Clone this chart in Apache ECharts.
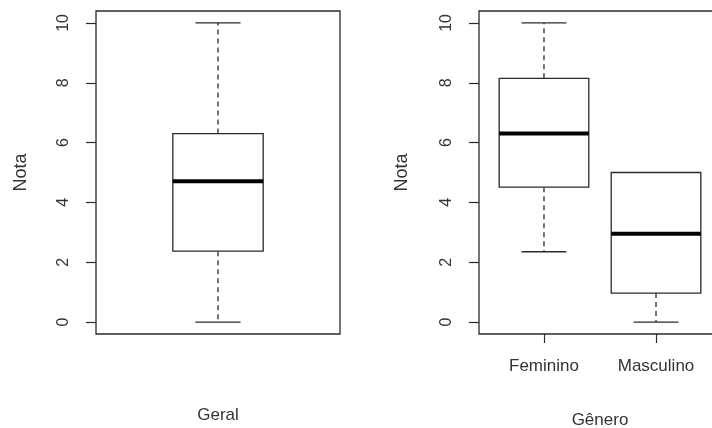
<!DOCTYPE html>
<html>
<head>
<meta charset="utf-8">
<script src="https://cdn.jsdelivr.net/npm/echarts@6/dist/echarts.min.js"></script>
<style>
html,body{margin:0;padding:0;background:#fff;}
#chart{width:712px;height:428px;}
</style>
</head>
<body>
<div id="chart"></div>
<script>
// ---- data ----
const yTicks = [0, 2, 4, 6, 8, 10];
// [min, Q1, median, Q3, max]
const geralStats = [0, 2.37, 4.71, 6.30, 10];
const generoCats = ['Feminino', 'Masculino'];
const femininoStats = [2.35, 4.51, 6.30, 8.15, 10];
const masculinoStats = [0, 0.97, 2.95, 5.0, 5.0];

const ink = '#2a2a2a';
const txt = '#333';
const font = 'Liberation Sans, Arial, sans-serif';

function makeRender(halfW) {
  return function (params, api) {
    const x = api.value(0);
    const lo = api.value(1), q1 = api.value(2), med = api.value(3), q3 = api.value(4), hi = api.value(5);
    const tl = api.coord([x - halfW, q3]);
    const br = api.coord([x + halfW, q1]);
    const ml = api.coord([x - halfW, med]);
    const mr = api.coord([x + halfW, med]);
    const c = api.coord([x, 0])[0];
    const capL = api.coord([x - halfW / 2, 0])[0];
    const capR = api.coord([x + halfW / 2, 0])[0];
    const yLo = api.coord([x, lo])[1], yHi = api.coord([x, hi])[1];
    const children = [];
    const solid = {stroke: ink, lineWidth: 1.3, fill: null};
    const dashed = {stroke: ink, lineWidth: 1.3, lineDash: [5, 4]};
    if (hi > q3) {
      children.push({type: 'line', shape: {x1: c, y1: tl[1], x2: c, y2: yHi}, style: dashed});
      children.push({type: 'line', shape: {x1: capL, y1: yHi, x2: capR, y2: yHi}, style: solid});
    }
    if (lo < q1) {
      children.push({type: 'line', shape: {x1: c, y1: br[1], x2: c, y2: yLo}, style: dashed});
      children.push({type: 'line', shape: {x1: capL, y1: yLo, x2: capR, y2: yLo}, style: solid});
    }
    children.push({type: 'rect', shape: {x: tl[0], y: tl[1], width: br[0] - tl[0], height: br[1] - tl[1]},
      style: {stroke: ink, lineWidth: 1.3, fill: '#fff'}});
    children.push({type: 'line', shape: {x1: ml[0], y1: ml[1], x2: mr[0], y2: mr[1]},
      style: {stroke: '#000', lineWidth: 4}});
    return {type: 'group', children: children};
  };
}

function yAxisDef(gridIndex, nameGap) {
  return {
    type: 'value', gridIndex: gridIndex, min: -0.4, max: 10.4,
    axisLine: {show: false, onZero: false},
    splitLine: {show: false},
    axisTick: {show: true, customValues: yTicks, length: 10, lineStyle: {color: ink, width: 1.2}},
    axisLabel: {show: true, customValues: yTicks, rotate: 90, margin: 24, fontSize: 16, color: txt, fontFamily: font},
    name: 'Nota', nameLocation: 'middle', nameRotate: 90, nameGap: nameGap,
    nameTextStyle: {fontSize: 18, color: txt, fontFamily: font}
  };
}

const chart = echarts.init(document.getElementById('chart'), null, {renderer: 'canvas'});
chart.setOption({
  backgroundColor: '#fff',
  animation: false,
  grid: [
    {left: 96, top: 11, width: 244, height: 323, show: true, borderColor: ink, borderWidth: 1.3,
      backgroundColor: 'transparent', containLabel: false, outerBoundsMode: 'none'},
    {left: 479, top: 11, width: 242, height: 323, show: true, borderColor: ink, borderWidth: 1.3,
      backgroundColor: 'transparent', containLabel: false, outerBoundsMode: 'none'}
  ],
  xAxis: [
    {type: 'value', gridIndex: 0, min: 0.46, max: 1.54,
      axisLine: {show: false, onZero: false}, axisTick: {show: false}, axisLabel: {show: false}, splitLine: {show: false},
      name: 'Geral', nameLocation: 'middle', nameGap: 73,
      nameTextStyle: {fontSize: 17, color: txt, fontFamily: font}},
    {type: 'value', gridIndex: 1, min: 0.42, max: 2.58,
      axisLine: {show: false, onZero: false}, splitLine: {show: false},
      axisTick: {show: true, customValues: [1, 2], length: 9, lineStyle: {color: ink, width: 1.2}},
      axisLabel: {show: true, customValues: [1, 2], margin: 24, fontSize: 17, color: txt, fontFamily: font,
        formatter: function (v) { return generoCats[Math.round(v) - 1]; }},
      name: 'Gênero', nameLocation: 'middle', nameGap: 78,
      nameTextStyle: {fontSize: 17, color: txt, fontFamily: font}}
  ],
  yAxis: [yAxisDef(0, 66), yAxisDef(1, 68)],
  series: [
    {type: 'custom', xAxisIndex: 0, yAxisIndex: 0, renderItem: makeRender(0.2),
      encode: {x: 0, y: [1, 2, 3, 4, 5]},
      data: [[1].concat(geralStats)]},
    {type: 'custom', xAxisIndex: 1, yAxisIndex: 1, renderItem: makeRender(0.4),
      encode: {x: 0, y: [1, 2, 3, 4, 5]},
      data: [[1].concat(femininoStats), [2].concat(masculinoStats)]}
  ]
});
</script>
</body>
</html>
